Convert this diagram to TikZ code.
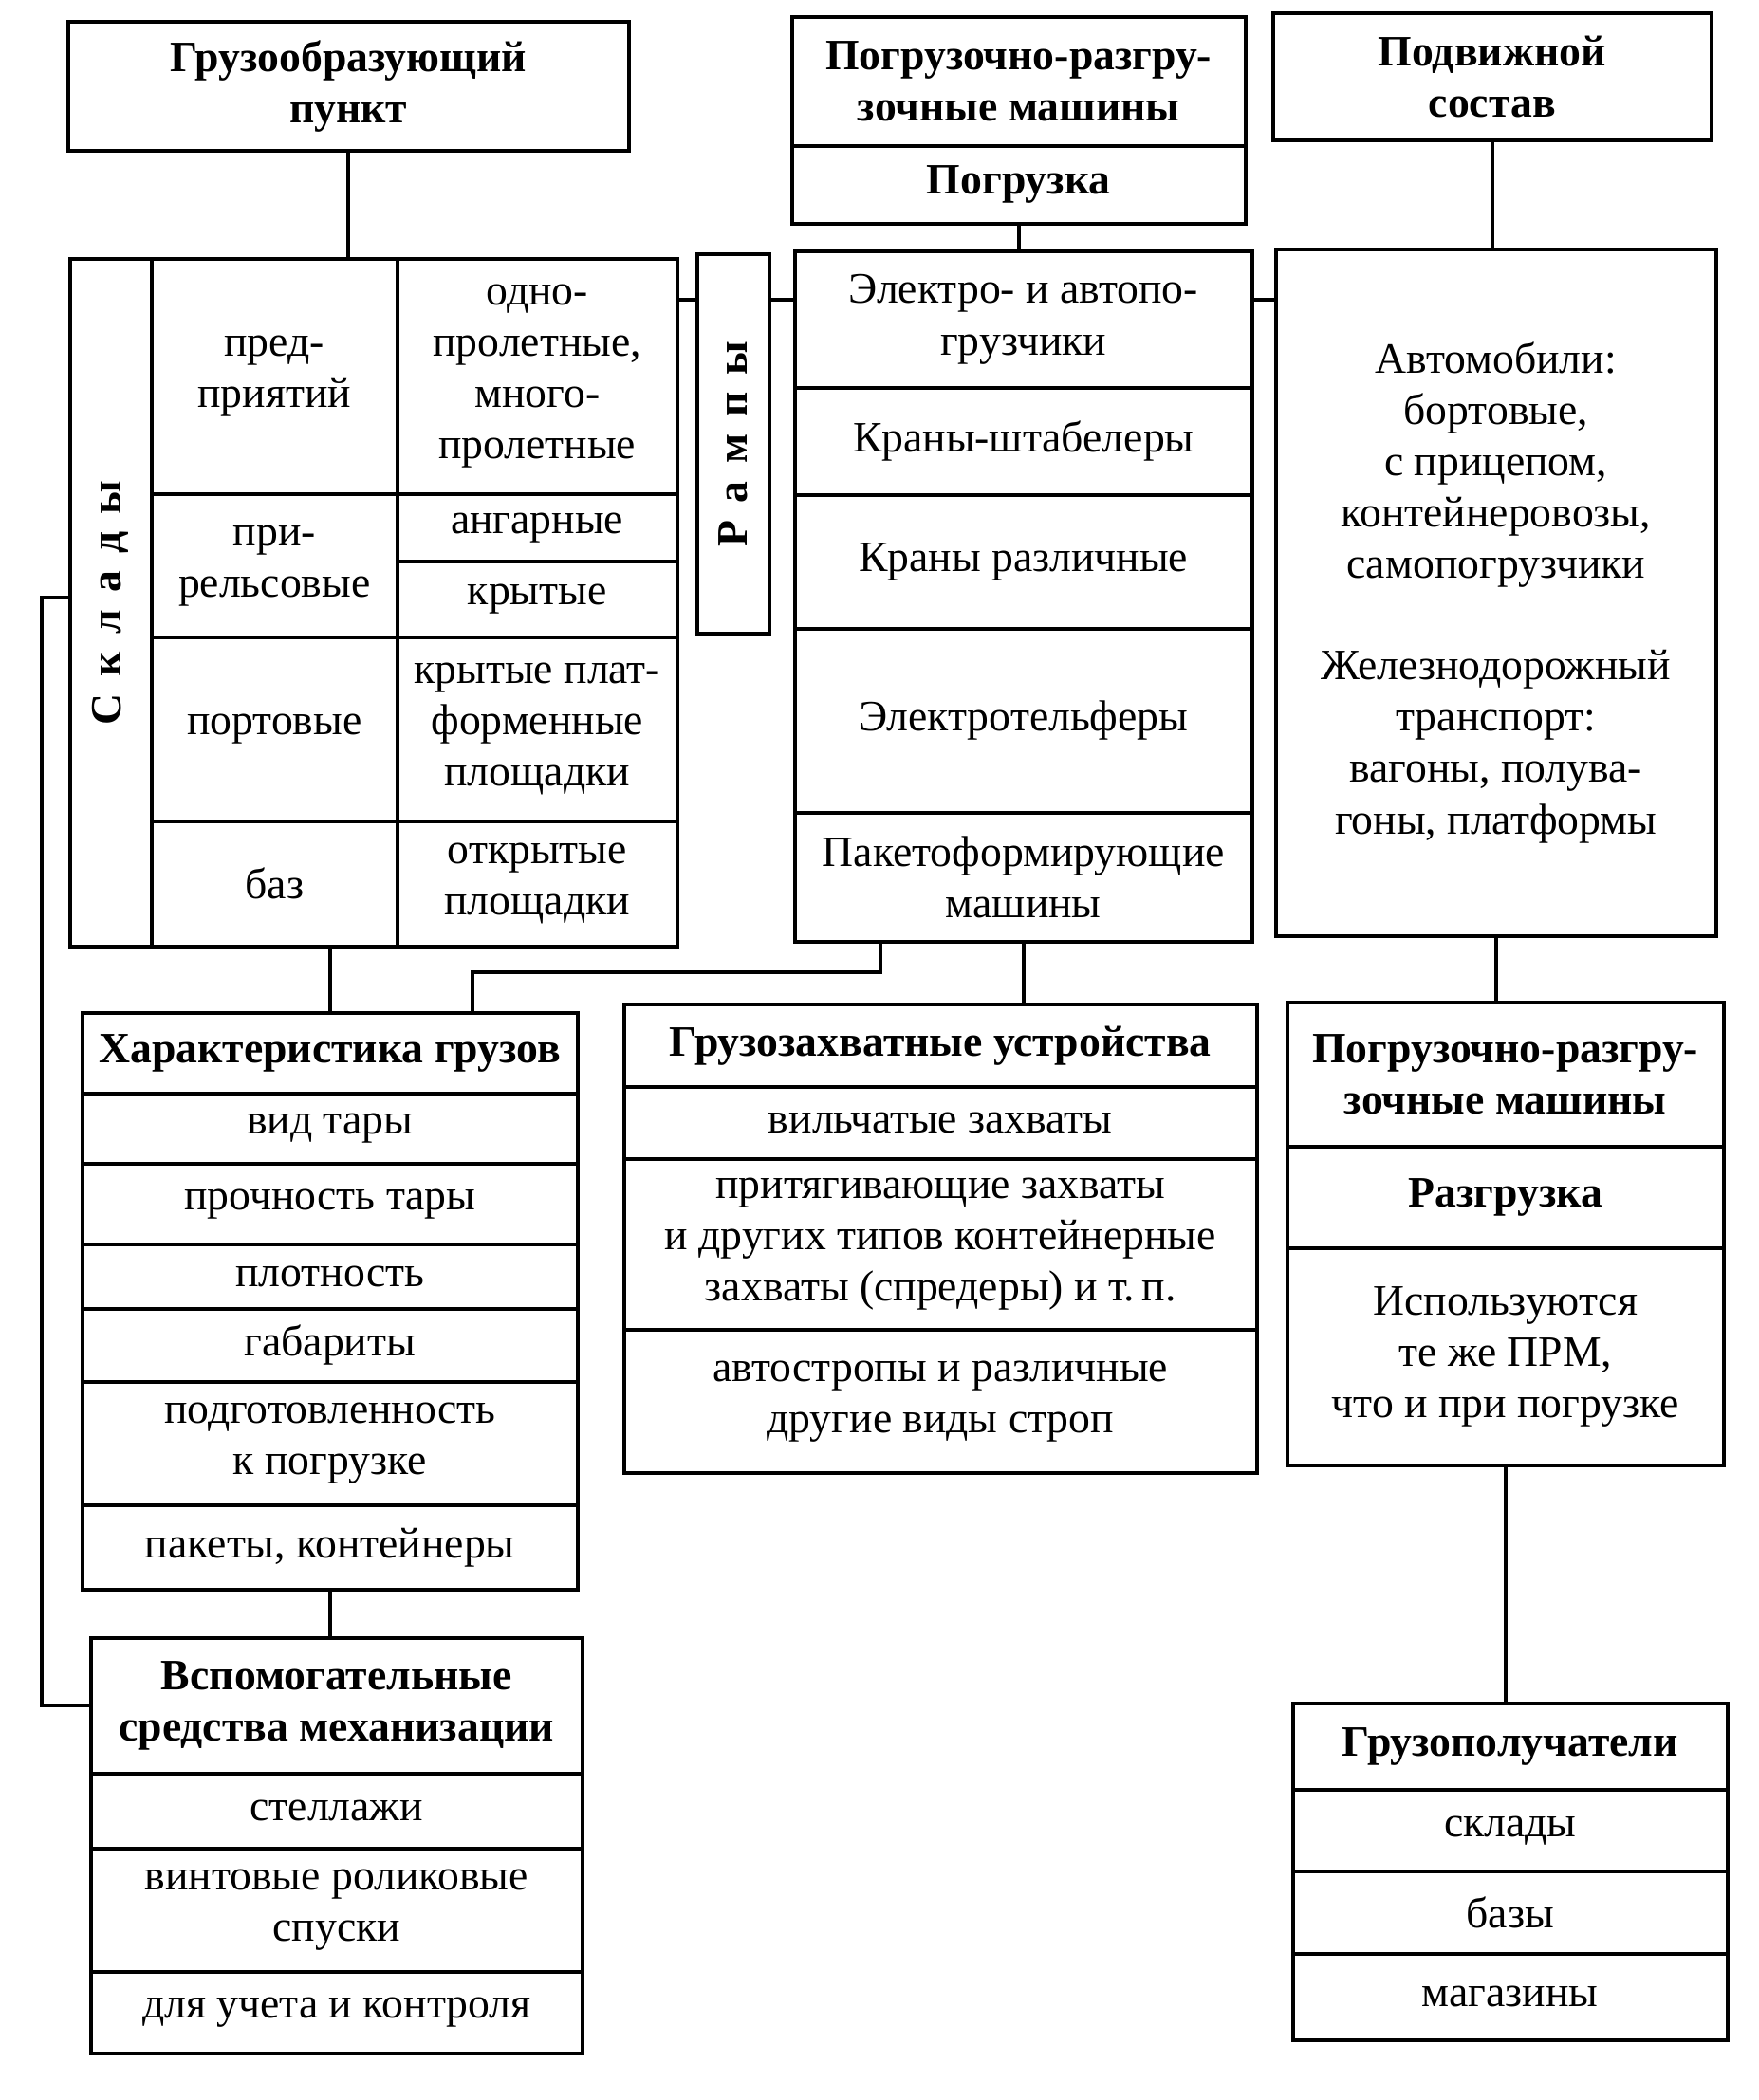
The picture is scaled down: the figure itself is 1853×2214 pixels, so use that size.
\documentclass[tikz,border=0pt]{standalone}
\usepackage{fontspec}
\setmainfont{Liberation Serif}
\usepackage{tikz}

\newcommand{\boxfont}{\fontsize{13}{15.4}\selectfont}
\newcommand{\lsp}{\hspace{0.4em}}

\begin{document}
\begin{tikzpicture}[x=0.1mm, y=-0.1mm,
    cell/.style={draw, line width=1pt, inner sep=1pt, align=center, anchor=north west, font=\boxfont},
    head/.style={cell, font=\boxfont\bfseries},
    link/.style={line width=1pt}]
    \useasboundingbox (0,0) rectangle (1853,2214);

    % 1. Верхний ряд: пункт, машины, подвижной состав
    \node[head, minimum width=59.1mm, minimum height=13.6mm] (gp) at (70,21) {Грузообразующий\\пункт};
    \node[head, minimum width=47.8mm, minimum height=13.6mm] (prm1) at (833,16) {Погрузочно-разгру-\\зочные машины};
    \node[head, minimum width=47.8mm, minimum height=8.2mm] (prm1b) at (833,152) {Погрузка};
    \node[head, minimum width=46.2mm, minimum height=13.4mm] (ps) at (1340,12) {Подвижной\\состав};

    % 2. Склады
    \node[cell, minimum width=8.6mm, minimum height=72.5mm] (skl0) at (72,271) {};
    \node[rotate=90, font=\boxfont\bfseries] (sklt) at (skl0.center) {С\lsp к\lsp л\lsp а\lsp д\lsp ы};
    \foreach \t/\h/\txt [count=\i] in {271/24.8/пред-\\приятий, 519/15.1/при-\\рельсовые, 670/19.4/портовые, 864/13.2/баз}
        \node[cell, minimum width=25.9mm, minimum height=\h mm] (skla\i) at (158,\t) {\txt};
    \foreach \t/\h/\txt [count=\i] in {271/24.8/{одно-\\пролетные,\\много-\\пролетные}, 519/7.1/ангарные, 590/8/крытые, 670/19.4/крытые плат-\\форменные\\площадки, 864/13.2/открытые\\площадки}
        \node[cell, minimum width=29.5mm, minimum height=\h mm] (sklb\i) at (417,\t) {\txt};

    % 3. Рампы
    \node[cell, minimum width=7.6mm, minimum height=40mm] (rmp) at (733,266) {};
    \node[rotate=90, font=\boxfont\bfseries] (rmpt) at (rmp.center) {Р\lsp а\lsp м\lsp п\lsp ы};

    % 4. Погрузочные машины
    \foreach \t/\h/\txt [count=\i] in {263/14.4/Электро- и автопо-\\грузчики, 407/11.3/Краны-штабелеры, 520/14.1/Краны различные, 661/19.4/Электротельферы, 855/13.6/Пакетоформирующие\\машины}
        \node[cell, minimum width=48.2mm, minimum height=\h mm] (pm\i) at (836,\t) {\txt};

    % 5. Подвижной состав: виды
    \node[cell, minimum width=46.4mm, minimum height=72.4mm] (avt) at (1343,261) {Автомобили:\\бортовые,\\с прицепом,\\контейнеровозы,\\самопогрузчики\\[15pt]Железнодорожный\\транспорт:\\вагоны, полува-\\гоны, платформы};

    % 6. Характеристика грузов
    \node[head, minimum width=52.2mm, minimum height=8.5mm] (hk0) at (85,1066) {Характеристика грузов};
    \foreach \t/\h/\txt [count=\i] in {1151/7.4/вид тары, 1225/8.5/прочность тары, 1310/6.8/плотность, 1378/7.7/габариты, 1455/13/подготовленность\\к погрузке, 1585/8.9/{пакеты, контейнеры}}
        \node[cell, minimum width=52.2mm, minimum height=\h mm] (hk\i) at (85,\t) {\txt};

    % 7. Вспомогательные средства механизации
    \node[head, minimum width=51.8mm, minimum height=14.3mm] (vsm0) at (94,1725) {Вспомогательные\\средства механизации};
    \foreach \t/\h/\txt [count=\i] in {1868/7.9/стеллажи, 1947/13/винтовые роликовые\\спуски, 2077/8.6/для учета и контроля}
        \node[cell, minimum width=51.8mm, minimum height=\h mm] (vsm\i) at (94,\t) {\txt};

    % 8. Грузозахватные устройства
    \node[head, minimum width=66.7mm, minimum height=8.7mm] (gzu0) at (656,1057) {Грузозахватные устройства};
    \foreach \t/\h/\txt [count=\i] in {1144/7.6/вильчатые захваты, 1220/18/притягивающие захваты\\и других типов контейнерные\\захваты (спредеры) и т.\,п., 1400/15.1/автостропы и различные\\другие виды строп}
        \node[cell, minimum width=66.7mm, minimum height=\h mm] (gzu\i) at (656,\t) {\txt};

    % 9. Разгрузка
    \node[head, minimum width=46mm, minimum height=15.2mm] (prm2a) at (1355,1055) {Погрузочно-разгру-\\зочные машины};
    \node[head, minimum width=46mm, minimum height=10.7mm] (prm2b) at (1355,1207) {Разгрузка};
    \node[cell, minimum width=46mm, minimum height=22.9mm] (prm2c) at (1355,1314) {Используются\\те же ПРМ,\\что и при погрузке};

    % 10. Грузополучатели
    \node[head, minimum width=45.8mm, minimum height=9.1mm] (gpl0) at (1361,1794) {Грузополучатели};
    \foreach \t/\h/\txt [count=\i] in {1885/8.6/склады, 1971/8.7/базы, 2058/9.1/магазины}
        \node[cell, minimum width=45.8mm, minimum height=\h mm] (gpl\i) at (1361,\t) {\txt};

    % 11. Связи
    \coordinate (lvl) at (0,316);
    \coordinate (jk) at (498,1025);
    \coordinate (br) at (44,630);
    \draw[link] (gp.south) -- (gp.south |- skla1.north);
    \draw[link] (sklb1.east |- lvl) -- (rmp.west |- lvl);
    \draw[link] (rmp.east |- lvl) -- (pm1.west |- lvl);
    \draw[link] (pm1.east |- lvl) -- (avt.west |- lvl);
    \draw[link] (prm1b.south) -- (prm1b.south |- pm1.north);
    \draw[link] (ps.south) -- (ps.south |- avt.north);
    \draw[link] ([xshift=9.2mm]pm5.south west) |- (jk) -- (jk |- hk0.north);
    \draw[link] (pm5.south) -- (pm5.south |- gzu0.north);
    \draw[link] (hk0.north) -- (hk0.north |- skla4.south);
    \draw[link] (hk6.south) -- (hk6.south |- vsm0.north);
    \draw[link] (skl0.west |- br) -- (br) |- (vsm0.west);
    \draw[link] (avt.south) -- (avt.south |- prm2a.north);
    \draw[link] (prm2c.south) -- (prm2c.south |- gpl0.north);
\end{tikzpicture}
\end{document}
